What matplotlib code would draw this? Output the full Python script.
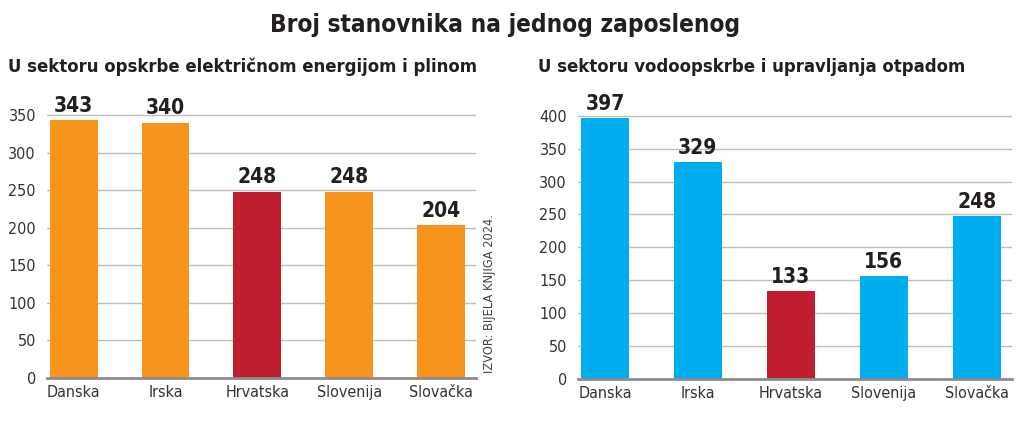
import matplotlib
matplotlib.use("Agg")
import matplotlib.pyplot as plt

# ── Data ───────────────────────────────────────────────────────────────────
countries = ["Danska", "Irska", "Hrvatska", "Slovenija", "Slovačka"]
energy    = [343, 340, 248, 248, 204]
water     = [397, 329, 133, 156, 248]
highlight = "Hrvatska"

title       = "Broj stanovnika na jednog zaposlenog"
sub_energy  = "U sektoru opskrbe električnom energijom i plinom"
sub_water   = "U sektoru vodoopskrbe i upravljanja otpadom"
source      = "IZVOR: BIJELA KNJIGA 2024."

energy_ticks = [0, 50, 100, 150, 200, 250, 300, 350]
water_ticks  = [0, 50, 100, 150, 200, 250, 300, 350, 400]

ORANGE = "#F7941D"
BLUE   = "#00AEEF"
RED    = "#BE1E2D"
GRID   = "#bdbdbd"
BASE   = "#8c8c8c"
TXT    = "#231f20"

plt.rcParams["font.family"]  = "DejaVu Sans"
plt.rcParams["font.stretch"] = "condensed"

W, H = 1024, 421
fig = plt.figure(figsize=(W / 100, H / 100), dpi=100)


def px_axes(left, right, top, bottom):
    return fig.add_axes([left / W, 1 - bottom / H, (right - left) / W, (bottom - top) / H])


def panel(ax, values, base_color, ticks, ymax):
    colors = [RED if c == highlight else base_color for c in countries]
    x = range(len(countries))
    ax.bar(x, values, width=0.52, color=colors, zorder=3)
    for xi, v in zip(x, values):
        ax.annotate(str(v), (xi, v), xytext=(0, 3), textcoords="offset points",
                    ha="center", va="bottom", fontsize=15, fontweight="bold",
                    color=TXT, zorder=4)
    ax.set_xlim(-0.29, 4.38)
    ax.set_ylim(0, ymax)
    ax.set_yticks(ticks)
    ax.set_xticks(list(x))
    ax.set_xticklabels(countries)
    ax.tick_params(axis="y", length=0, pad=8, labelsize=11.5, labelcolor="#333333")
    ax.tick_params(axis="x", length=0, pad=5, labelsize=11.5, labelcolor="#333333")
    ax.yaxis.grid(True, color=GRID, linewidth=1, zorder=0)
    ax.set_axisbelow(True)
    for s in ("top", "right", "left"):
        ax.spines[s].set_visible(False)
    ax.spines["bottom"].set_color(BASE)
    ax.spines["bottom"].set_linewidth(2)
    ax.spines["bottom"].set_zorder(5)


ax1 = px_axes(47, 476, 378 - 360 * 263 / 350, 378)
panel(ax1, energy, ORANGE, energy_ticks, 360)

ax2 = px_axes(578, 1012, 379 - 410 * 263.3 / 400, 379)
panel(ax2, water, BLUE, water_ticks, 410)

fig.text(505 / W, 1 - 25 / H, title, ha="center", va="center",
         fontsize=17.5, fontweight="bold", color=TXT)
fig.text(8 / W, 1 - 67 / H, sub_energy, ha="left", va="center",
         fontsize=13.2, fontweight="bold", color=TXT)
fig.text(538 / W, 1 - 67 / H, sub_water, ha="left", va="center",
         fontsize=13.2, fontweight="bold", color=TXT)
fig.text(490 / W, 1 - 373 / H, source, ha="center", va="bottom",
         rotation=90, fontsize=9.2, color="#444444")

fig.savefig("out.png", dpi=100, facecolor="white")
